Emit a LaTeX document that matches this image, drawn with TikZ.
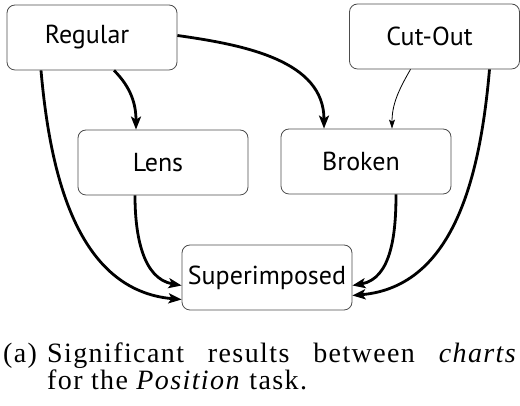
\documentclass[tikz,border=0pt]{standalone}
\usepackage{fontspec}
\setmainfont{Liberation Serif}
\newfontfamily\boxfont{PT Sans}
\newfontfamily\capfont[LetterSpace=5]{Liberation Serif}
\usetikzlibrary{arrows.meta,positioning}

\begin{document}
\begin{tikzpicture}[x=1pt,y=1pt,
  box/.style={draw=black!70, line width=0.8pt, rounded corners=8pt, minimum width=170pt, minimum height=65pt, inner sep=0pt, font=\boxfont\fontsize{26}{30}\selectfont},
  link/.style={-{Stealth[length=13pt,width=10pt,inset=3pt]}, line width=2.8pt},
  thinlink/.style={-{Stealth[length=9pt,width=6pt,inset=2pt]}, line width=0.8pt},
  caption/.style={anchor=base west, inner sep=0pt, font=\capfont\fontsize{28}{30}\selectfont}]
\useasboundingbox (0,0) rectangle (520,406);
\node[box] (reg) at (92,368.5) {\hspace*{-10pt}Regular};
\node[box] (cut) at (434.5,369.5) {\hspace*{-10pt}Cut-Out};
\node[box] (lens) at (163,243.5) {\hspace*{-10pt}Lens};
\node[box] (brk) at (366,244.5) {\hspace*{-10pt}Broken};
\node[box] (sup) at (267,128.5) {Superimposed};
\draw[link] ([xshift=22pt]reg.south) to[out=-45,in=90] ([xshift=-27pt]lens.north);
\draw[link] ([yshift=2pt]reg.east) to[out=-8,in=90] ([xshift=-42pt]brk.north);
\draw[thinlink] ([xshift=-24pt]cut.south) to[out=-120,in=90] ([xshift=26pt]brk.north);
\draw[link] ([xshift=-51pt]reg.south) to[out=-85,in=175] ([yshift=-22pt]sup.west);
\draw[link] ([xshift=-28pt]lens.south) to[out=-90,in=170] ([yshift=-8pt]sup.west);
\draw[link] ([xshift=30pt]brk.south) to[out=-90,in=10] ([yshift=-8pt]sup.east);
\draw[link] ([xshift=55pt]cut.south) to[out=-95,in=5] ([yshift=-18pt]sup.east);
% caption
\node[caption] (tag) at (3,43) {(a)};
\node[caption] (line1) at (47,43) {\makebox[470pt][s]{Significant results between \textit{charts}}};
\node[caption] (line2) at (47,16) {for the \textit{Position} task.};
\end{tikzpicture}
\end{document}
